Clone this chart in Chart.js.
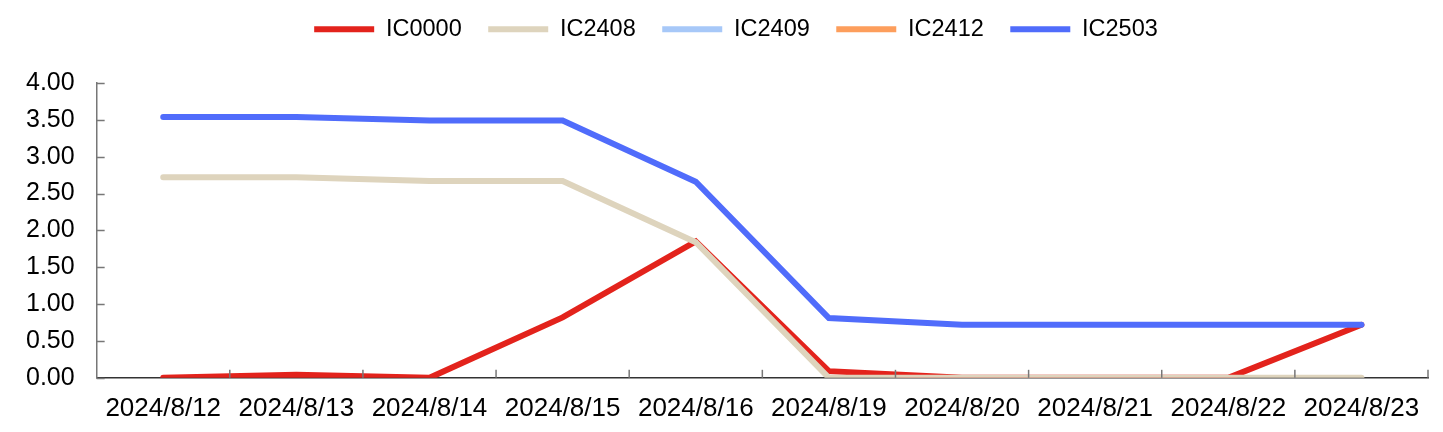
<!DOCTYPE html>
<html>
<head>
<meta charset="utf-8">
<script src="https://cdn.jsdelivr.net/npm/chart.js@4/dist/chart.umd.min.js"></script>
<style>
  html, body { margin: 0; padding: 0; background: #fff; }
  #wrap { width: 1443px; height: 432px; }
</style>
</head>
<body>
<div id="wrap"><canvas id="chart"></canvas></div>
<script>
// --- DATA ---
const labels = ['2024/8/12', '2024/8/13', '2024/8/14', '2024/8/15', '2024/8/16',
                '2024/8/19', '2024/8/20', '2024/8/21', '2024/8/22', '2024/8/23'];
const ic0000 = [0.00, 0.04, 0.00, 0.82, 1.85, 0.09, 0.00, 0.00, 0.00, 0.72];
const ic2408 = [2.72, 2.72, 2.67, 2.67, 1.84, 0.00, 0.00, 0.00, 0.00, 0.00];
const ic2409 = [null, null, null, null, null, null, null, null, null, null];
const ic2412 = [null, null, null, null, null, null, null, null, null, null];
const ic2503 = [3.54, 3.54, 3.49, 3.49, 2.66, 0.81, 0.72, 0.72, 0.72, 0.72];
const yTicks = [0, 0.5, 1, 1.5, 2, 2.5, 3, 3.5, 4];

const FONT = '"Liberation Sans", Arial, Helvetica, sans-serif';

function series(label, data, color, order) {
    return {
        label, data, order,
        borderColor: color,
        backgroundColor: color,
        borderWidth: 6,
        borderCapStyle: 'round',
        borderJoinStyle: 'miter',
        pointRadius: 0,
        pointHoverRadius: 0,
        tension: 0,
        fill: false
    };
}

// extra room under the legend, and nudge it right a bit
const legendGap = {
    id: 'legendGap',
    beforeInit(chart) {
        const fit = chart.legend.fit;
        chart.legend.fit = function () { fit.call(this); this.height += 32; };
    },
    afterLayout(chart) {
        chart.legend.left += 20;
        chart.legend.right += 20;
    }
};

// inward tick marks like the original
const innerTicks = {
    id: 'innerTicks',
    afterDraw(chart) {
        const { ctx, chartArea: a, scales: { x, y } } = chart;
        ctx.save();
        ctx.lineWidth = 1.5;
        ctx.strokeStyle = '#777';
        y.ticks.forEach((t, i) => {
            const py = Math.round(y.getPixelForTick(i)) + 0.5;
            ctx.beginPath(); ctx.moveTo(a.left, py); ctx.lineTo(a.left + 8, py); ctx.stroke();
        });
        const n = x.ticks.length;
        for (let i = 1; i <= n; i++) {
            const px = i === n ? a.right : (x.getPixelForTick(i - 1) + x.getPixelForTick(i)) / 2;
            ctx.beginPath(); ctx.moveTo(px, a.bottom); ctx.lineTo(px, a.bottom - 8); ctx.stroke();
        }
        ctx.restore();
    }
};

new Chart(document.getElementById('chart'), {
    type: 'line',
    data: {
        labels,
        datasets: [
            series('IC0000', ic0000, '#e3231c', 4),
            series('IC2408', ic2408, '#ded4bd', 3),
            series('IC2409', ic2409, '#a7c8f8', 2),
            series('IC2412', ic2412, '#fd9e5c', 1),
            series('IC2503', ic2503, '#506cfb', 0)
        ]
    },
    options: {
        responsive: true,
        maintainAspectRatio: false,
        animation: false,
        layout: { padding: { top: -9, left: 4, right: 15, bottom: -7 } },
        plugins: {
            tooltip: { enabled: false },
            legend: {
                position: 'top',
                align: 'center',
                labels: {
                    usePointStyle: true,
                    pointStyle: 'line',
                    pointStyleWidth: 60,
                    boxHeight: 6,
                    padding: 26.5,
                    color: '#000',
                    font: { family: FONT, size: 23.5 },
                    sort: (a, b) => a.datasetIndex - b.datasetIndex
                }
            }
        },
        scales: {
            x: {
                offset: true,
                grid: { display: false, drawTicks: false },
                border: { display: true, color: '#333', width: 1.5 },
                ticks: {
                    color: '#000',
                    padding: 15,
                    maxRotation: 0,
                    autoSkip: false,
                    font: { family: FONT, size: 26 }
                }
            },
            y: {
                min: 0,
                max: 4,
                afterBuildTicks: s => { s.ticks = yTicks.map(v => ({ value: v })); },
                grid: { display: false, drawTicks: false },
                border: { display: true, color: '#777', width: 1.5 },
                ticks: {
                    color: '#000',
                    padding: 22,
                    font: { family: FONT, size: 25 },
                    callback: v => Number(v).toFixed(2)
                }
            }
        }
    },
    plugins: [legendGap, innerTicks]
});
</script>
</body>
</html>
